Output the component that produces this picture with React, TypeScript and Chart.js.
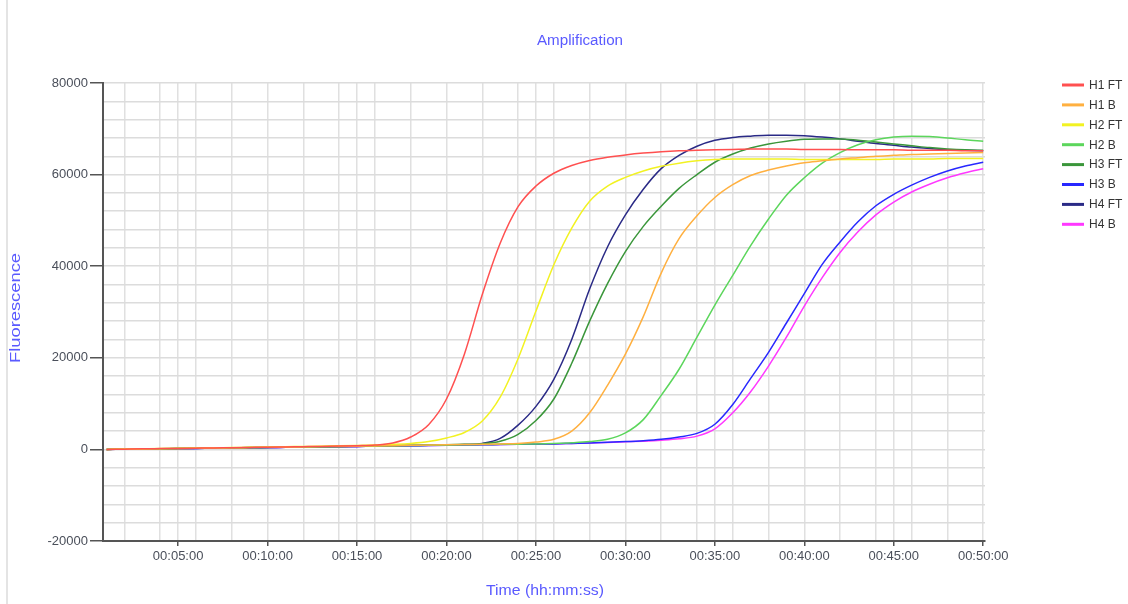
import React, { useEffect, useRef } from 'react';
import { Chart, registerables } from 'chart.js';

Chart.register(...registerables);

// time in minutes
const minutes = [
  1, 2, 3, 4, 5, 6, 7, 8, 9, 10, 11, 12, 13, 14, 15, 16, 17, 18, 19, 20, 21, 22, 23, 24, 25,
  26, 27, 28, 29, 30, 31, 32, 33, 34, 35, 36, 37, 38, 39, 40, 41, 42, 43, 44, 45, 46, 47, 48, 49, 50,
];

const seriesLabels = ['H1 FT', 'H1 B', 'H2 FT', 'H2 B', 'H3 FT', 'H3 B', 'H4 FT', 'H4 B'];
const seriesColors = ['#ff5050', '#ffb040', '#f2f222', '#5cd65c', '#3a963a', '#2828ff', '#2a2a86', '#ff38ff'];

const h1FT = [
  0, 60, 120, 170, 220, 270, 320, 380, 430, 480, 540, 600, 660, 730, 820, 950,
  1400, 2700, 5400, 11000, 20800, 33800, 45000, 53000, 57500, 60300, 62000, 63100, 63800, 64300,
  64700, 65000, 65200, 65300, 65400, 65500, 65600, 65600, 65600, 65500, 65500, 65500, 65400, 65400,
  65400, 65300, 65300, 65300, 65200, 65200,
];
const h1B = [
  0, 50, 110, 160, 210, 260, 310, 360, 410, 460, 510, 560, 610, 660, 710, 760,
  820, 880, 940, 1000, 1060, 1120, 1200, 1300, 1600, 2200, 4000, 8000, 14000, 20800,
  29000, 38500, 46000, 51000, 55000, 57800, 59800, 61000, 61900, 62600, 63000, 63400, 63700, 64000,
  64200, 64400, 64500, 64600, 64700, 64800,
];
const h2FT = [
  0, 70, 130, 190, 240, 290, 350, 400, 460, 520, 580, 640, 700, 780, 870, 980,
  1100, 1300, 1700, 2500, 3700, 6200, 11400, 19800, 30200, 40300, 48300, 54200, 57500, 59400,
  60800, 61800, 62500, 63000, 63300, 63400, 63400, 63400, 63400, 63300, 63300, 63300, 63300, 63300,
  63400, 63400, 63400, 63500, 63500, 63500,
];
const h2B = [
  0, 50, 100, 150, 200, 250, 300, 350, 400, 450, 500, 550, 600, 650, 700, 750,
  800, 850, 900, 950, 1000, 1050, 1100, 1150, 1200, 1300, 1450, 1700, 2200, 3600,
  6500, 11800, 17500, 24500, 31500, 38000, 44500, 50300, 55500, 59300, 62500, 64800, 66500, 67600,
  68200, 68400, 68300, 68000, 67600, 67300,
];
const h3FT = [
  0, 40, 90, 140, 190, 240, 290, 340, 390, 440, 490, 540, 590, 640, 700, 760,
  820, 880, 950, 1000, 1100, 1250, 1800, 3300, 6300, 11000, 18800, 28000, 36200, 43200,
  48700, 53100, 57000, 60000, 62700, 64500, 65800, 66700, 67300, 67700, 67800, 67800, 67500, 67100,
  66700, 66300, 65900, 65600, 65400, 65300,
];
const h3B = [
  0, 50, 90, 130, 180, 220, 270, 310, 360, 400, 450, 500, 540, 590, 640, 690,
  740, 790, 840, 890, 940, 1000, 1050, 1100, 1150, 1200, 1300, 1400, 1550, 1700,
  1900, 2200, 2700, 3500, 5500, 9800, 15500, 21200, 27600, 34000, 40400, 45300, 49700, 53200,
  55700, 57700, 59400, 60800, 61900, 62700,
];
const h4FT = [
  0, 40, 80, 130, 170, 220, 260, 310, 350, 400, 450, 500, 550, 600, 660, 720,
  780, 840, 900, 960, 1050, 1300, 2400, 5300, 9400, 15300, 24000, 35000, 44200, 51200,
  56800, 61300, 64200, 66200, 67500, 68100, 68400, 68600, 68600, 68500, 68200, 67800, 67300, 66800,
  66400, 66000, 65700, 65400, 65300, 65200,
];
const h4B = [
  0, 50, 100, 140, 190, 230, 280, 320, 370, 410, 460, 500, 550, 600, 650, 700,
  750, 800, 850, 900, 950, 1000, 1050, 1100, 1150, 1200, 1300, 1400, 1500, 1650,
  1800, 2000, 2300, 2900, 4500, 8000, 12600, 18200, 24500, 31300, 37500, 43000, 47500, 51200,
  54000, 56200, 57900, 59300, 60400, 61300,
];

const seriesValues = [h1FT, h1B, h2FT, h2B, h3FT, h3B, h4FT, h4B];

const xLabelMinutes = [5, 10, 15, 20, 25, 30, 35, 40, 45, 50];
const xLabels = ['00:05:00', '00:10:00', '00:15:00', '00:20:00', '00:25:00', '00:30:00', '00:35:00', '00:40:00', '00:45:00', '00:50:00'];
const yLabelValues = [-20000, 0, 20000, 40000, 60000, 80000];
const yLabels = ['-20000', '0', '20000', '40000', '60000', '80000'];

const chartTitle = 'Amplification';
const xTitle = 'Time (hh:mm:ss)';
const yTitle = 'Fluorescence';

const FONT = "'Liberation Sans', Arial, sans-serif";
const TITLE_BLUE = '#5a5aff';
const TICK_COLOR = '#4a4f5a';

function drawStretched(ctx: CanvasRenderingContext2D, text: string, x: number, y: number, size: number, width: number, rotate: boolean) {
  ctx.save();
  ctx.font = `${size}px ${FONT}`;
  ctx.fillStyle = TITLE_BLUE;
  ctx.textAlign = 'center';
  ctx.textBaseline = 'middle';
  const w = ctx.measureText(text).width;
  ctx.translate(x, y);
  if (rotate) ctx.rotate(-Math.PI / 2);
  ctx.scale(width / w, 1);
  ctx.fillText(text, 0, 0);
  ctx.restore();
}

export default function App() {
  const ref = useRef<HTMLCanvasElement>(null);

  useEffect(() => {
    const canvas = ref.current;
    if (!canvas) return;

    const overlay = {
      id: 'overlay',
      afterDraw(chart: any) {
        const ctx: CanvasRenderingContext2D = chart.ctx;
        drawStretched(ctx, chartTitle, 580, 41, 14, 86, false);
        drawStretched(ctx, xTitle, 545, 591, 14, 118, false);
        drawStretched(ctx, yTitle, 16, 308, 14, 110, true);
        // legend
        ctx.save();
        ctx.font = `12px ${FONT}`;
        ctx.textAlign = 'left';
        ctx.textBaseline = 'middle';
        seriesLabels.forEach((lab, i) => {
          const y = 85 + 19.9 * i;
          ctx.strokeStyle = seriesColors[i];
          ctx.lineWidth = 3;
          ctx.beginPath();
          ctx.moveTo(1062, y);
          ctx.lineTo(1084, y);
          ctx.stroke();
          ctx.fillStyle = '#333';
          ctx.fillText(lab, 1089, y + 0.5);
        });
        ctx.restore();
      },
    };

    const yGridValues: number[] = [];
    for (let v = -20000; v <= 80000; v += 4000) yGridValues.push(v);

    const chart = new Chart(canvas, {
      type: 'line',
      data: {
        datasets: seriesValues.map((arr, i) => ({
          label: seriesLabels[i],
          data: minutes.map((m, j) => ({ x: m, y: arr[j] })),
          borderColor: seriesColors[i],
          backgroundColor: seriesColors[i],
          borderWidth: 1.5,
          pointRadius: 0,
          cubicInterpolationMode: 'monotone' as const,
          fill: false,
        })),
      },
      options: {
        responsive: false,
        animation: false,
        devicePixelRatio: 1,
        layout: { padding: { left: 0, right: 143, top: 83, bottom: 0 } },
        plugins: {
          legend: { display: false },
          title: { display: false },
          tooltip: { enabled: false },
        },
        scales: {
          x: {
            type: 'linear',
            min: 0.8,
            max: 50.1,
            afterBuildTicks: (s: any) => {
              s.ticks = minutes.map((v) => ({ value: v }));
            },
            afterFit: (s: any) => {
              s.height = 63;
            },
            ticks: {
              autoSkip: false,
              maxRotation: 0,
              minRotation: 0,
              padding: 3,
              color: TICK_COLOR,
              font: { family: FONT, size: 13 },
              callback: (v: any) => {
                const k = xLabelMinutes.indexOf(Number(v));
                return k >= 0 ? xLabels[k] : '';
              },
            },
            grid: {
              color: (c: any) => {
                const v = c.tick ? c.tick.value : 0;
                return v % 2 === 0 || v % 5 === 0 ? '#e0e0e0' : 'rgba(0,0,0,0)';
              },
              lineWidth: 1.5,
              tickLength: 5,
              tickColor: (c: any) => {
                const v = c.tick ? c.tick.value : 0;
                return v % 5 === 0 ? '#555' : 'rgba(0,0,0,0)';
              },
              tickWidth: 1.5,
            },
            border: { color: '#555', width: 2 },
          },
          y: {
            type: 'linear',
            min: -20000,
            max: 80000,
            afterBuildTicks: (s: any) => {
              s.ticks = yGridValues.map((v) => ({ value: v }));
            },
            afterFit: (s: any) => {
              s.width = 103;
            },
            ticks: {
              autoSkip: false,
              padding: 2,
              color: TICK_COLOR,
              font: { family: FONT, size: 13 },
              callback: (v: any) => {
                const k = yLabelValues.indexOf(Number(v));
                return k >= 0 ? yLabels[k] : '';
              },
            },
            grid: {
              color: '#dcdcdc',
              lineWidth: 1.5,
              tickLength: 13,
              tickColor: (c: any) => {
                const v = c.tick ? c.tick.value : 1;
                return v % 20000 === 0 ? '#555' : 'rgba(0,0,0,0)';
              },
              tickWidth: 1.5,
            },
            border: { color: '#555', width: 2 },
          },
        },
      },
      plugins: [overlay],
    } as any);

    return () => chart.destroy();
  }, []);

  return (
    <div style={{ position: 'absolute', left: 0, top: 0, width: 1128, height: 604, background: '#fff' }}>
      <div style={{ position: 'absolute', left: 6, top: 0, width: 2, height: 604, background: '#e4e4e4' }} />
      <canvas ref={ref} width={1128} height={604} style={{ position: 'absolute', left: 0, top: 0 }} />
    </div>
  );
}
